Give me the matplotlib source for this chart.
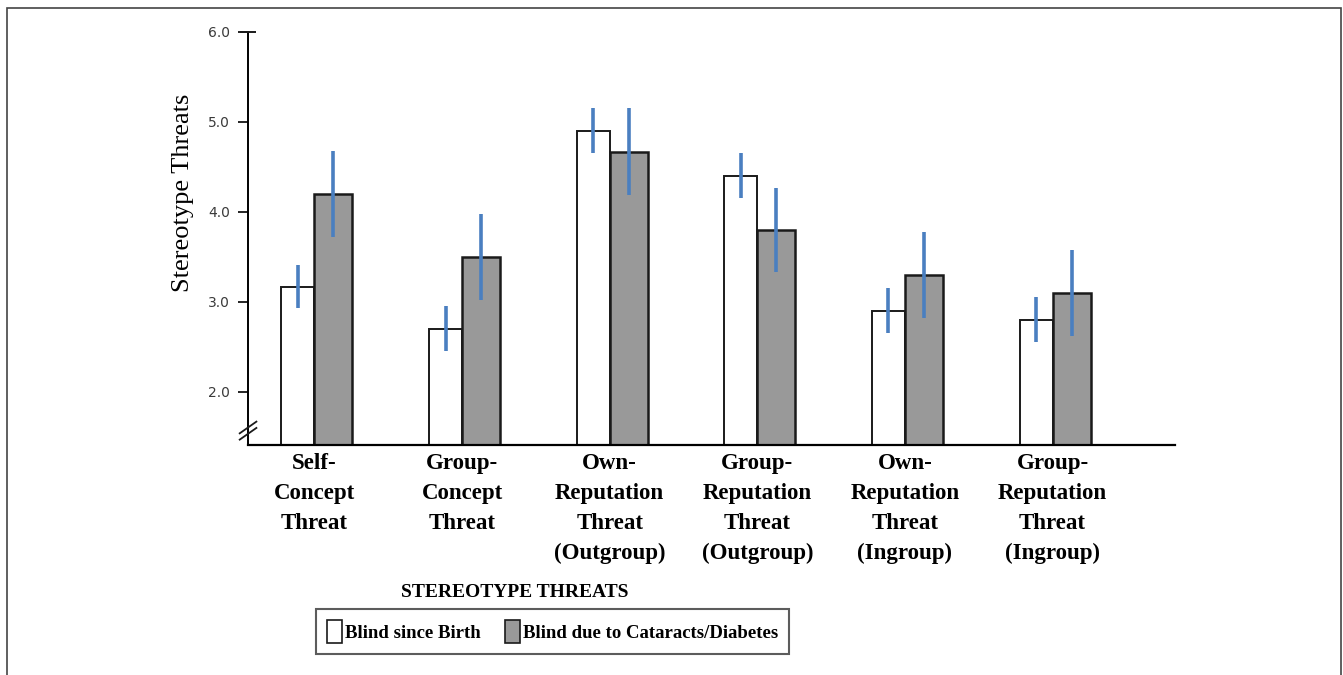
"""
Stereotype threats by blindness onset: grouped bars with blue error lines.
Writes: out.png
"""
import matplotlib
matplotlib.use("Agg")
import numpy as np
import matplotlib.pyplot as plt
import matplotlib.transforms as mtransforms
from matplotlib.patches import Patch, Rectangle

categories = [
    "Self-\nConcept\nThreat",
    "Group-\nConcept\nThreat",
    "Own-\nReputation\nThreat\n(Outgroup)",
    "Group-\nReputation\nThreat\n(Outgroup)",
    "Own-\nReputation\nThreat\n(Ingroup)",
    "Group-\nReputation\nThreat\n(Ingroup)",
]
birth_vals = [3.17, 2.70, 4.90, 4.40, 2.90, 2.80]
birth_err = [0.24, 0.25, 0.25, 0.25, 0.25, 0.25]
late_vals = [4.20, 3.50, 4.67, 3.80, 3.30, 3.10]
late_err = [0.48, 0.48, 0.48, 0.47, 0.48, 0.48]
series_names = ["Blind since Birth", "Blind due to Cataracts/Diabetes"]
y_ticks = [2.0, 3.0, 4.0, 5.0, 6.0]

SERIF = ["Liberation Serif", "DejaVu Serif"]
GREY = "#999999"
BLUE = "#4a7fc0"
EDGE = "#1a1a1a"
Y0 = 1.41

fig = plt.figure(figsize=(13.43, 6.75), dpi=100, facecolor="white")
ax = fig.add_axes([0.1847, 0.3407, 0.6903, 0.6119])

x = np.arange(len(categories))
w_white, w_grey = 0.224, 0.257
b_vals = np.array(birth_vals)
l_vals = np.array(late_vals)

ax.bar(x, b_vals - Y0, bottom=Y0, width=-w_white, align="edge",
       facecolor="white", edgecolor=EDGE, linewidth=1.4, zorder=2)
ax.bar(x, l_vals - Y0, bottom=Y0, width=w_grey, align="edge",
       facecolor=GREY, edgecolor=EDGE, linewidth=1.8, zorder=2)
ax.errorbar(x - w_white / 2, b_vals, yerr=birth_err, fmt="none",
            ecolor=BLUE, elinewidth=2.6, capsize=0, zorder=3)
ax.errorbar(x + w_grey / 2, l_vals, yerr=late_err, fmt="none",
            ecolor=BLUE, elinewidth=2.6, capsize=0, zorder=3)

ax.set_xlim(-0.45, 5.83)
ax.set_ylim(Y0, 6.0)
for side in ["top", "right"]:
    ax.spines[side].set_visible(False)
ax.spines["left"].set_linewidth(1.4)
ax.spines["bottom"].set_linewidth(1.6)

ax.set_yticks(y_ticks)
ax.set_yticklabels([f"{v:.1f}" for v in y_ticks])
ax.tick_params(axis="y", direction="out", length=7, width=1.2,
               labelsize=10, labelcolor="#3a3a3a", pad=6)
for lbl in ax.get_yticklabels():
    lbl.set_family("DejaVu Sans")

ax.set_xticks(x)
ax.set_xticklabels(categories, fontfamily=SERIF, fontweight="bold",
                   fontsize=16.5, linespacing=1.55, va="top")
ax.tick_params(axis="x", length=0, pad=6)

# cap at top of y axis
ax.plot([ax.get_xlim()[0]], [6.0], marker="_", ms=11, mew=1.4,
        color=EDGE, clip_on=False, zorder=4)

# axis break marks
trans = mtransforms.blended_transform_factory(ax.transAxes, ax.transData)
for dy in (0.0, 0.07):
    ax.plot([-0.009, 0.009], [1.47 + dy, 1.60 + dy], color=EDGE, lw=1.3,
            transform=trans, clip_on=False, zorder=4)

fig.text(0.136, 0.714, "Stereotype Threats", rotation=90, ha="center",
         va="center", fontsize=19, family=SERIF)
fig.text(0.3835, 0.1215, "STEREOTYPE THREATS", ha="center", va="center",
         fontsize=14, fontweight="bold", family=SERIF)

handles = [Patch(facecolor="white", edgecolor=EDGE, linewidth=1.2),
           Patch(facecolor=GREY, edgecolor=EDGE, linewidth=1.2)]
leg = fig.legend(handles, series_names, loc="center",
                 bbox_to_anchor=(0.4114, 0.0644), ncol=2, frameon=True,
                 fancybox=False, handlelength=0.8, handleheight=1.45,
                 handletextpad=0.15, columnspacing=1.3, borderpad=0.6,
                 borderaxespad=0.0,
                 prop={"family": SERIF, "weight": "bold", "size": 13.5})
leg.get_frame().set_edgecolor("#333333")
leg.get_frame().set_linewidth(1.5)

fig.add_artist(Rectangle((0.0052, -0.02), 0.9933, 1.008,
                         transform=fig.transFigure, fill=False,
                         edgecolor="#444444", linewidth=1.2))

fig.savefig("out.png", dpi=100, facecolor="white")
